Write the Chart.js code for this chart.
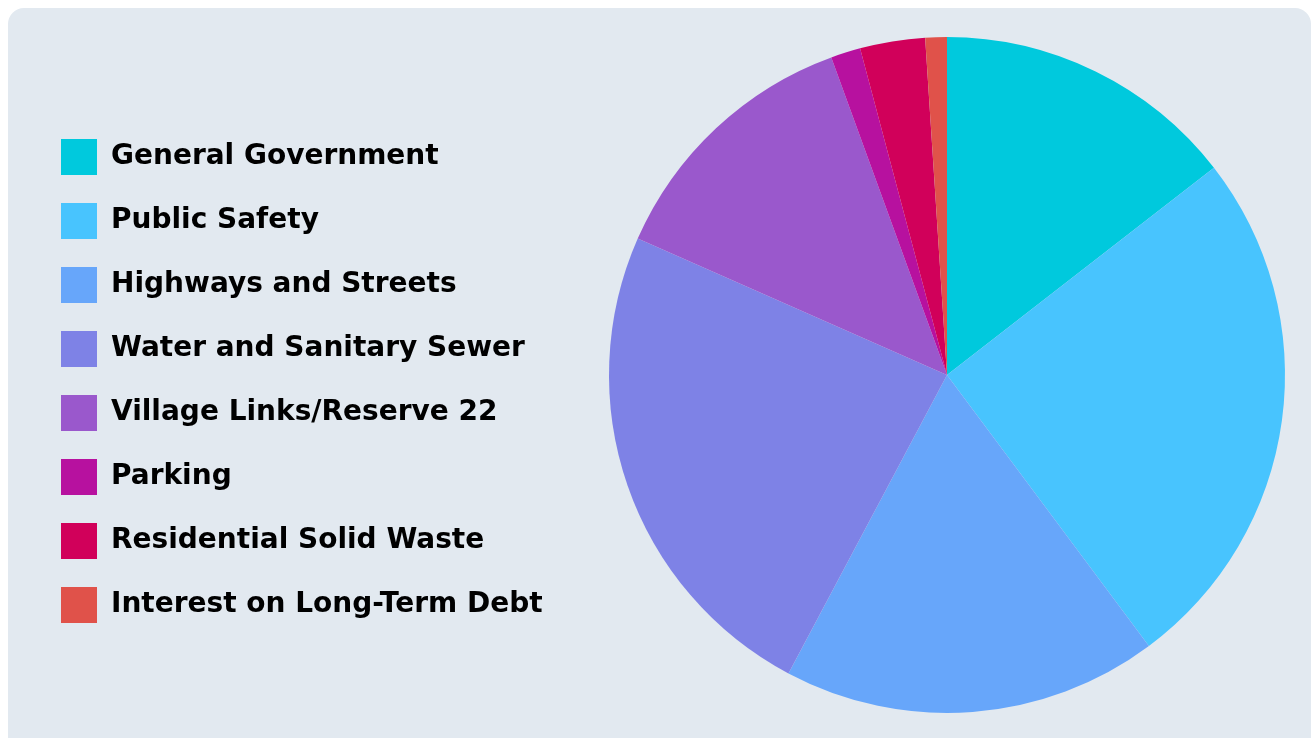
<!DOCTYPE html>
<html>
<head>
<meta charset="utf-8">
<script src="https://cdn.jsdelivr.net/npm/chart.js@4.4.1/dist/chart.umd.min.js"></script>
<style>
  html, body { margin: 0; padding: 0; background: #fff; overflow: hidden; }
  body { width: 1314px; height: 738px; position: relative; }
  .card {
    position: absolute; left: 8px; top: 8px; width: 1303px; height: 760px;
    background: #E2E9F0; border-radius: 16px;
  }
  .chart-wrap { position: absolute; left: 0; top: 0; width: 1400px; height: 738px; }
</style>
</head>
<body>
<div class="card"></div>
<div class="chart-wrap"><canvas id="expenseChart"></canvas></div>
<script>
// Expense share by function (percent of total)
const categories = [
  'General Government',
  'Public Safety',
  'Highways and Streets',
  'Water and Sanitary Sewer',
  'Village Links/Reserve 22',
  'Parking',
  'Residential Solid Waste',
  'Interest on Long-Term Debt'
];
const shares = [14.49, 25.32, 17.96, 23.84, 12.83, 1.42, 3.11, 1.03];
const sliceColors = ['#00C9DD', '#48C4FE', '#67A6FA', '#7E82E6', '#9A58CC', '#B7119F', '#D1005A', '#E0524A'];

const FONT_FAMILY = "'DejaVu Sans', sans-serif";
const FONT_SIZE = 28;
const BOX = 36;
const ITEM_GAP = 28;
const CANVAS_W = 1400;
const PIE_CX = 947;

// measure the longest legend label so the pie lands where we want it
function widestLabel() {
  const ctx = document.createElement('canvas').getContext('2d');
  ctx.font = `bold ${FONT_SIZE}px ${FONT_FAMILY}`;
  return Math.max(...categories.map(c => ctx.measureText(c).width));
}

document.addEventListener('DOMContentLoaded', () => {
  const padLeft = 33;
  // vertical legend width = padding + box + half font + text, plus Chart.js' extra 10px
  const legendWidth = ITEM_GAP + BOX + FONT_SIZE / 2 + widestLabel() + 10;
  const chartLeft = padLeft + legendWidth;
  const padRight = Math.max(0, CANVAS_W - (2 * PIE_CX - chartLeft));

  new Chart(document.getElementById('expenseChart'), {
    type: 'pie',
    data: {
      labels: categories,
      datasets: [{
        data: shares,
        backgroundColor: sliceColors,
        borderWidth: 0,
        hoverOffset: 0
      }]
    },
    options: {
      responsive: true,
      maintainAspectRatio: false,
      animation: false,
      layout: { padding: { left: padLeft, right: padRight, top: 37, bottom: 25 } },
      plugins: {
        tooltip: { enabled: false },
        legend: {
          position: 'left',
          align: 'center',
          title: { display: true, text: '', font: { size: 10 }, padding: 0 },
          labels: {
            boxWidth: BOX,
            boxHeight: BOX,
            padding: ITEM_GAP,
            color: '#000',
            font: { family: FONT_FAMILY, size: FONT_SIZE, weight: 'bold' }
          }
        }
      }
    }
  });
});
</script>
</body>
</html>
